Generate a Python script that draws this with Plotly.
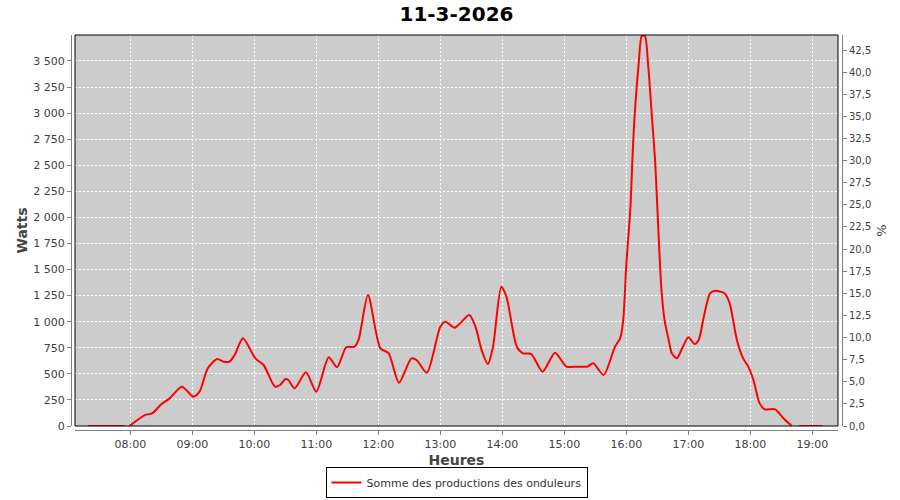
import plotly.graph_objects as go

DAY = "2026-03-11 "

times = ["07:19", "07:55", None, "07:59", "08:06", "08:14", "08:21", "08:30", "08:38", "08:50",
         "09:01", "09:07", "09:15", "09:24", "09:30", "09:36", "09:41", "09:49",
         "10:01", "10:09", "10:20", "10:25", "10:30", "10:33", "10:39", "10:50",
         "11:00", "11:12", "11:20", "11:29", "11:37", "11:41", "11:50",
         "12:02", "12:10", "12:20", "12:32", "12:37", "12:47",
         "13:00", "13:05", "13:14", "13:28", "13:34", "13:40", "13:46", "13:51", "13:59",
         "14:04", "14:14", "14:20", "14:28", "14:39", "14:51",
         "15:02", "15:12", "15:22", "15:28", "15:38", "15:49", "15:54", "15:57",
         "16:00", "16:04", "16:06", "16:08", "16:12", "16:15", "16:18", "16:21", "16:25",
         "16:28", "16:31", "16:34", "16:37", "16:41", "16:44", "16:49", "16:54",
         "17:00", "17:06", "17:10", "17:15", "17:21", "17:26", "17:35", "17:40", "17:47", "17:53", "17:58",
         "18:03", "18:09", "18:14", "18:24", "18:32", "18:40", None, "18:47", "19:10"]

watts = [0, 0, None, 0, 50, 105, 120, 208, 265, 377,
         281, 329, 553, 642, 617, 617, 681, 841,
         649, 585, 377, 393, 451, 441, 361, 515,
         329, 659, 563, 755, 760, 830, 1256,
         745, 697, 415, 649, 633, 511,
         952, 1000, 943, 1064, 952, 729, 594, 760, 1336,
         1240, 760, 697, 690, 521, 703,
         569, 569, 569, 601, 489, 760, 841, 1016,
         1550, 2103, 2582, 2966, 3477, 3740, 3740, 3477, 2934,
         2519, 1879, 1304, 1016, 825, 697, 649, 745,
         850, 786, 825, 1048, 1272, 1297, 1272, 1176, 825, 649, 569,
         441, 217, 160, 160, 74, 0, None, 0, 0]

series_name = "Somme des productions des onduleurs"
title_text = "11-3-2026"

x_tick_hours = ["08:00", "09:00", "10:00", "11:00", "12:00", "13:00",
                "14:00", "15:00", "16:00", "17:00", "18:00", "19:00"]
watt_ticks = [0, 250, 500, 750, 1000, 1250, 1500, 1750, 2000, 2250, 2500, 2750, 3000, 3250, 3500]
watt_labels = ["0", "250", "500", "750", "1 000", "1 250", "1 500", "1 750", "2 000",
               "2 250", "2 500", "2 750", "3 000", "3 250", "3 500"]
pct_ticks = [i * 2.5 for i in range(18)]
pct_labels = [f"{v:.1f}".replace(".", ",") for v in pct_ticks]

x_range = [DAY + "07:06:30", DAY + "19:24:50"]
y_range = [0, 3749]
y2_range = [0, 44.2]

xs = [DAY + t if t else None for t in times]

fig = go.Figure()
fig.add_trace(go.Scatter(
    x=xs, y=watts, mode="lines", name=series_name,
    line=dict(color="#FF0000", width=2, shape="spline", smoothing=0.7),
    connectgaps=False,
))
fig.add_trace(go.Scatter(
    x=[xs[0]], y=[None], yaxis="y2", mode="lines", showlegend=False, hoverinfo="skip",
))

font_family = "DejaVu Sans"
axis_col = "#808080"
tick_font = dict(family=font_family, size=11, color="#404040")
title_font = dict(family=font_family, size=14, color="#444444")

fig.update_layout(
    width=900, height=500,
    margin=dict(l=71, r=58, t=35, b=70, autoexpand=False),
    paper_bgcolor="white",
    plot_bgcolor="#CCCCCC",
    title=dict(text="<b>" + title_text + "</b>", x=0.5, xanchor="center", xref="paper",
               y=0.972, yanchor="middle", yref="container",
               font=dict(family=font_family, size=20, color="black")),
    showlegend=True,
    legend=dict(orientation="h", x=0.5, xanchor="center", xref="paper",
                y=-0.172, yanchor="bottom", bgcolor="white", bordercolor="black", borderwidth=1,
                font=dict(family=font_family, size=11, color="#333333"),
                itemwidth=30, tracegroupgap=0),
    xaxis=dict(
        type="date", range=x_range, domain=[4 / 771, 767 / 771],
        anchor="free", position=0, automargin=False,
        tickvals=[DAY + h for h in x_tick_hours], ticktext=x_tick_hours,
        showgrid=True, gridcolor="white", griddash="2px,2px", gridwidth=1,
        showline=True, linecolor=axis_col, linewidth=1,
        ticks="outside", ticklen=4, tickcolor=axis_col,
        tickfont=tick_font, zeroline=False,
        title=dict(text="<b>Heures</b>", font=title_font, standoff=4),
    ),
    yaxis=dict(
        range=y_range, domain=[4 / 395, 1], anchor="free", position=0, automargin=False,
        tickvals=watt_ticks, ticktext=watt_labels,
        showgrid=True, gridcolor="white", griddash="2px,2px", gridwidth=1,
        showline=True, linecolor=axis_col, linewidth=1,
        ticks="outside", ticklen=4, tickcolor=axis_col,
        tickfont=tick_font, zeroline=False,
        title=dict(text="<b>Watts</b>", font=title_font, standoff=1),
    ),
    yaxis2=dict(
        range=y2_range, domain=[4 / 395, 1], anchor="free", position=1, automargin=False,
        overlaying="y", side="right",
        tickvals=pct_ticks, ticktext=pct_labels,
        showgrid=False, showline=True, linecolor=axis_col, linewidth=1,
        ticks="outside", ticklen=4, tickcolor=axis_col,
        tickfont=dict(family=font_family, size=10, color="#404040"), zeroline=False,
        title=dict(text="%", font=dict(family=font_family, size=13, color="#444444"), standoff=6),
    ),
    shapes=[dict(type="rect", xref="x domain", yref="y domain", x0=0, x1=1, y0=0, y1=1,
                 line=dict(color="black", width=1), layer="above")],
)

fig.write_html("out.html", config={"displayModeBar": False},
               post_script="document.body.style.margin='0';document.body.style.overflow='hidden';")
